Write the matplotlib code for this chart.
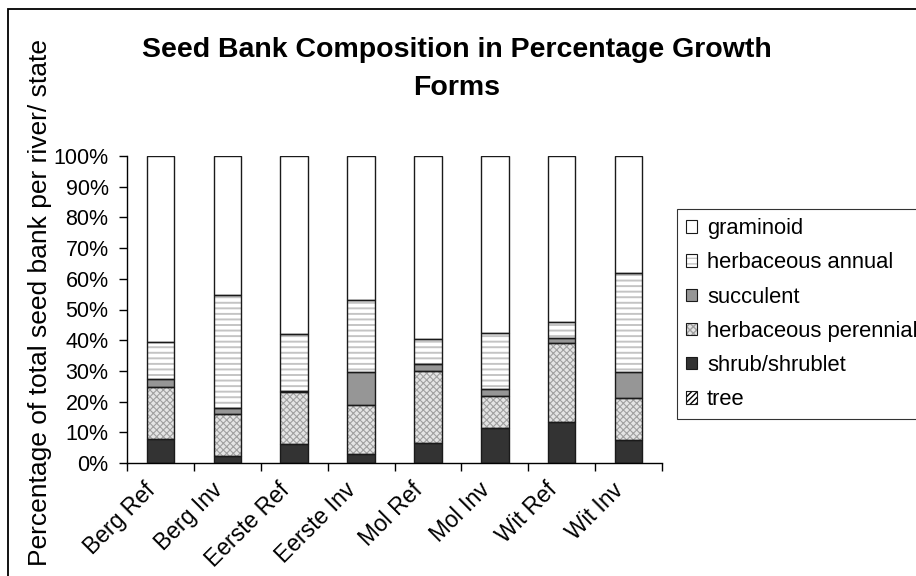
import matplotlib
matplotlib.use("Agg")
import matplotlib.pyplot as plt
import matplotlib.transforms as mtransforms
import numpy as np
from matplotlib.patches import Patch, Rectangle
from matplotlib.legend_handler import HandlerTuple

plt.rcParams["font.family"] = ["Liberation Sans", "DejaVu Sans"]
plt.rcParams["hatch.linewidth"] = 1.0

# River / state combinations
sites = ["Berg Ref", "Berg Inv", "Eerste Ref", "Eerste Inv",
         "Mol Ref", "Mol Inv", "Wit Ref", "Wit Inv"]

# Percentage of the seed bank in each growth form (stacked bottom to top)
tree = [0.0, 0.0, 0.0, 0.0, 0.0, 0.0, 0.0, 0.0]
shrub = [7.8, 2.4, 6.2, 2.9, 6.5, 11.3, 13.2, 7.4]
herb_perennial = [17.1, 13.5, 16.9, 16.1, 23.6, 10.5, 25.9, 13.9]
succulent = [2.4, 1.9, 0.5, 10.6, 2.2, 2.4, 1.7, 8.3]
herb_annual = [12.2, 36.8, 18.3, 23.6, 8.1, 18.1, 5.1, 32.3]
graminoid = [60.5, 45.4, 58.1, 46.8, 59.6, 57.7, 54.1, 38.1]

yticks = [0, 10, 20, 30, 40, 50, 60, 70, 80, 90, 100]

W, H = 916, 576
fig = plt.figure(figsize=(W / 100, H / 100), dpi=100)
ax = fig.add_axes([127 / W, 1 - 463 / H, (662 - 127) / W, (463 - 156) / H])

# name, values, face colour, hatch, hatch colour, hatch line width
series = [
    ("tree", tree, "white", "//////", "black", 1.0),
    ("shrub/shrublet", shrub, "#333333", None, None, None),
    ("herbaceous perennial", herb_perennial, "#e4e4e4", "xxxxx", "#a0a0a0", 0.8),
    ("succulent", succulent, "#969696", None, None, None),
    ("herbaceous annual", herb_annual, "white", "---", "#c4c4c4", 1.4),
    ("graminoid", graminoid, "white", None, None, None),
]


def hatched(artist, lw):
    if lw is not None and hasattr(artist, "set_hatch_linewidth"):
        artist.set_hatch_linewidth(lw)


x = np.arange(len(sites))
width = 0.41
bottom = np.zeros(len(sites))
handles = {}
for name, vals, face, hatch, hcol, hlw in series:
    vals = np.asarray(vals, dtype=float)
    if hatch:
        bars = ax.bar(x, vals, width, bottom=bottom, color=face, hatch=hatch,
                      edgecolor=hcol, linewidth=0, zorder=2)
        for b in bars:
            hatched(b, hlw)
    else:
        ax.bar(x, vals, width, bottom=bottom, color=face, linewidth=0, zorder=2)
    ax.bar(x, vals, width, bottom=bottom, facecolor="none",
           edgecolor="#1a1a1a", linewidth=1.0, zorder=3)
    bottom += vals
    fill = Patch(facecolor=face, hatch=hatch, edgecolor=hcol if hcol else face,
                 linewidth=0)
    hatched(fill, hlw)
    outline = Patch(facecolor="none", edgecolor="#1a1a1a", linewidth=0.8)
    handles[name] = (fill, outline)

ax.set_xlim(-0.5, len(sites) - 0.5)
ax.set_ylim(0, 100)
ax.set_yticks(yticks)
ax.set_yticklabels([f"{t}%" for t in yticks])
ax.set_xticks(np.arange(len(sites) + 1) - 0.5)
ax.set_xticklabels([])
ax.set_xticks(x, minor=True)
ax.set_xticklabels(sites, minor=True, rotation=45, ha="right", va="center",
                   rotation_mode="anchor")
ax.tick_params(axis="x", which="minor", length=0, pad=17, labelsize=16.5)
ax.tick_params(axis="x", which="major", length=5.8, width=1.0, direction="out")
ax.tick_params(axis="y", length=5.8, width=1.0, direction="out", pad=7.5,
               labelsize=15.5)
shift = mtransforms.ScaledTranslation(-0.085, 0, fig.dpi_scale_trans)
for lab in ax.get_xticklabels(minor=True):
    lab.set_transform(lab.get_transform() + shift)
for side in ("top", "right"):
    ax.spines[side].set_visible(False)
for side in ("left", "bottom"):
    ax.spines[side].set_linewidth(1.0)

fig.text(457 / W, 1 - 69 / H,
         "Seed Bank Composition in Percentage Growth\nForms",
         ha="center", va="center", fontsize=20.5, fontweight="bold",
         linespacing=1.6)
fig.text(40 / W, 1 - 303 / H,
         "Percentage of total seed bank per river/ state",
         rotation=90, ha="center", va="center", fontsize=19)

order = ["graminoid", "herbaceous annual", "succulent",
         "herbaceous perennial", "shrub/shrublet", "tree"]
leg = fig.legend([handles[n] for n in order], order,
                 handler_map={tuple: HandlerTuple(ndivide=1)},
                 loc="upper left", bbox_to_anchor=(677 / W, 1 - 209 / H),
                 borderaxespad=0, frameon=True, fancybox=False,
                 fontsize=15.8, handlelength=0.5, handleheight=0.5,
                 handletextpad=0.45, labelspacing=0.6, borderpad=0.42)
leg.get_frame().set_edgecolor("black")
leg.get_frame().set_linewidth(0.8)

# outer chart frame
fig.patches.append(Rectangle((8 / W, -0.1), 1.2, 1.1 - 9 / H,
                             transform=fig.transFigure, fill=False,
                             edgecolor="black", linewidth=1.3, clip_on=False))

fig.savefig("out.png", dpi=100)
